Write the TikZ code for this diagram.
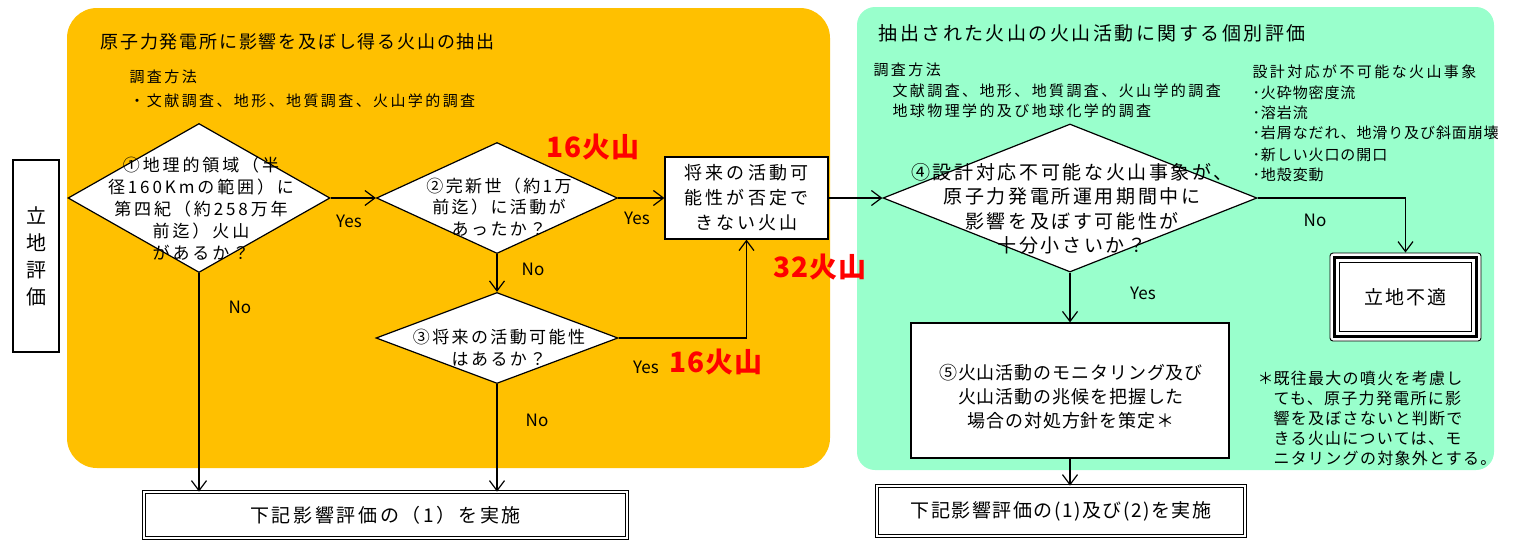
\documentclass[tikz,border=0pt]{standalone}
\usepackage{fontspec}
\usepackage{xcolor}
\usepackage{tikz}
\usetikzlibrary{positioning,shapes.geometric,arrows.meta,calc}
\setmainfont{Noto Sans CJK JP}
\definecolor{panelorange}{RGB}{255,192,0}
\definecolor{panelgreen}{RGB}{153,255,204}
\newcommand{\jpsize}[3]{\fontsize{#1}{#2}\selectfont\addfontfeature{LetterSpace=#3}}

\begin{document}
\begin{tikzpicture}[x=1pt, y=-1pt, line width=1.2pt, every node/.style={inner sep=0pt},
   >={Straight Barb[length=10pt,width=15pt]},
   dia/.style={diamond, draw, fill=white},
   box/.style={rectangle, draw, fill=white, align=center},
   txt/.style={align=center},
   yn/.style={font=\fontsize{17}{17}\selectfont},
   cnt/.style={text=red, font=\bfseries\jpsize{28}{28}{4}},
   small/.style={anchor=west, font=\jpsize{15}{18}{16}}]
   \useasboundingbox (0,0) rectangle (1513,539);
   \fill[panelorange, rounded corners=30pt] (67,8) rectangle (830,468);
   \fill[panelgreen, rounded corners=18pt] (857,7) rectangle (1494,470);

   \node[box, minimum width=46pt, minimum height=192pt, font=\jpsize{20}{27}{0}] (site) at (36,256) {立\\地\\評\\価};

   % extraction
   \node[anchor=west, font=\jpsize{18}{20}{10}] (h1) at (100,42) {原子力発電所に影響を及ぼし得る火山の抽出};
   \node[small] (m1) at (129,77) {調査方法};
   \node[small] (m2) at (129,101) {・文献調査、地形、地質調査、火山学的調査};

   \node[dia, minimum width=262pt, minimum height=149pt] (d1) at (199,198) {};
   \node[txt, font=\jpsize{17}{22}{17}] (t1) at (201,209) {①地理的領域（半\\径160Kmの範囲）に\\第四紀（約258万年\\前迄）火山\\があるか？};
   \node[dia, minimum width=241pt, minimum height=111pt] (d2) at (497,198) {};
   \node[txt, font=\jpsize{17}{21.5}{14}] (t2) at (499,207) {②完新世（約1万\\前迄）に活動が\\あったか？};
   \node[dia, minimum width=242pt, minimum height=91pt] (d3) at (497,338) {};
   \node[txt, font=\jpsize{17}{22}{14}] (t3) at (499,348) {③将来の活動可能性\\はあるか？};
   \node[box, minimum width=163pt, minimum height=82pt, font=\jpsize{18}{25}{17}] (fut) at (746.5,198) {将来の活動可\\能性が否定で\\きない火山};

   \node[cnt] (n1) at (593,147) {16火山};
   \node[cnt] (n2) at (820,267) {32火山};
   \node[cnt] (n3) at (716,362) {16火山};

   \node[yn] (y1) at (349,221) {Yes};
   \node[yn] (y2) at (637,218) {Yes};
   \node[yn] (y3) at (646,367) {Yes};
   \node[yn] (no1) at (533,269) {No};
   \node[yn] (no2) at (240,307) {No};
   \node[yn] (no3) at (537,420) {No};

   % individual evaluation
   \node[anchor=west, font=\jpsize{19}{22}{13}] (h2) at (878,33) {抽出された火山の火山活動に関する個別評価};
   \node[small] (g1) at (873,70) {調査方法};
   \node[small] (g2) at (892,91) {文献調査、地形、地質調査、火山学的調査};
   \node[small] (g3) at (892,111) {地球物理学的及び地球化学的調査};
   \node[small] (e0) at (1252,72) {設計対応が不可能な火山事象};
   \foreach \ev/\yy [count=\i] in {火砕物密度流/93, 溶岩流/113, 岩屑なだれ、地滑り及び斜面崩壊/133, 新しい火口の開口/155, 地殻変動/175}
      \node[small, font=\jpsize{15}{18}{6}] (e\i) at (1252,\yy) {･\ev};

   \node[dia, minimum width=374pt, minimum height=148pt] (d4) at (1070,198) {};
   \node[txt, font=\jpsize{19}{24.5}{14}] (t4) at (1072,209) {④設計対応不可能な火山事象が、\\原子力発電所運用期間中に\\影響を及ぼす可能性が\\十分小さいか？};
   \node[box, minimum width=318pt, minimum height=135pt] (mon) at (1070,390.5) {};
   \node[txt, font=\jpsize{18}{24}{5}] (t5) at (1071,397) {⑤火山活動のモニタリング及び\\火山活動の兆候を把握した\\場合の対処方針を策定＊};
   \node[box, minimum width=151pt, minimum height=88pt, rounded corners=3pt, line width=0.9pt, font=\jpsize{19}{20}{12}] (unfit) at (1405.5,297) {立地不適};
   \draw[line width=3pt] ([shift={(5,-5)}]unfit.south west) rectangle ([shift={(-5,5)}]unfit.north east);
   \draw[line width=0.9pt] ([shift={(10,-10)}]unfit.south west) rectangle ([shift={(-10,10)}]unfit.north east);
   \node[anchor=west, align=left, font=\jpsize{16}{20}{8}] (fn) at (1273,418) {\llap{＊}既往最大の噴火を考慮し\\ても、原子力発電所に影\\響を及ぼさないと判断で\\きる火山については、モ\\ニタリングの対象外とする。};

   \node[yn] (y4) at (1143,293) {Yes};
   \node[yn] (no4) at (1315,220) {No};

   % results
   \node[box, double, double distance=2.5pt, line width=0.8pt, minimum width=483pt, minimum height=46pt, font=\jpsize{19}{20}{14}] (res1) at (385.5,515) {下記影響評価の（1）を実施};
   \node[box, double, double distance=2.5pt, line width=0.8pt, minimum width=368pt, minimum height=50pt, font=\jpsize{19}{20}{8}] (res2) at (1061,511) {下記影響評価の(1)及び(2)を実施};

   \draw[->] (d1.east) -- (d2.west);
   \draw[->] (d2.east) -- (fut.west);
   \draw[->] (fut.east) -- (d4.west);
   \draw[->] (d2.south) -- (d3.north);
   \draw[->] (d3.east) -| (fut.south);
   \draw[->] (d1.south) -- (d1.south |- res1.north);
   \draw[->] (d3.south) -- (d3.south |- res1.north);
   \draw[->] (d4.east) -| (unfit.north);
   \draw[->] (d4.south) -- (mon.north);
   \draw[->] (mon.south) -- (mon.south |- res2.north);
\end{tikzpicture}
\end{document}
